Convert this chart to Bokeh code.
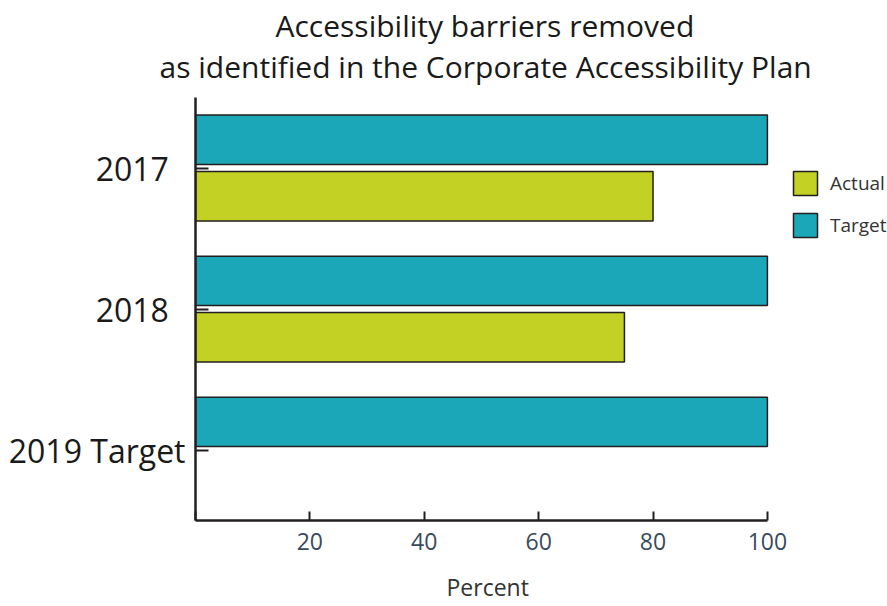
from bokeh.plotting import figure
from bokeh.models import (FactorRange, Range1d, FixedTicker, ColumnDataSource, Legend,
                          LegendItem, Title, CustomJSTickFormatter)
from bokeh.transform import dodge
from bokeh.embed import file_html
from bokeh.resources import INLINE

# data
categories = ["2017", "2018", "2019 Target"]
target = [100, 100, 100]
actual_cats = ["2017", "2018"]
actual = [80, 75]
x_ticks = [0, 20, 40, 60, 80, 100]
title_lines = ["Accessibility barriers removed", "as identified in the Corporate Accessibility Plan"]
x_label = "Percent"

TEAL = "#1ca7b8"
LIME = "#c2d123"
DARK = "#231f20"
FONT = "Open Sans"

p = figure(width=887, height=606,
           y_range=FactorRange(factors=list(reversed(categories)), range_padding=0),
           x_range=Range1d(0, 121.0),
           output_backend="svg", toolbar_location=None,
           min_border_left=195, min_border_right=0, min_border_top=97, min_border_bottom=86)

p.outline_line_color = None
p.xgrid.visible = False
p.ygrid.visible = False

src_t = ColumnDataSource(dict(y=categories, v=target))
src_a = ColumnDataSource(dict(y=actual_cats, v=actual))

rt = p.hbar(y=dodge("y", 0.2, range=p.y_range), left=0, right="v", height=0.35, source=src_t,
            fill_color=TEAL, line_color=DARK, line_width=1.5)
ra = p.hbar(y=dodge("y", -0.2, range=p.y_range), left=0, right="v", height=0.35, source=src_a,
            fill_color=LIME, line_color=DARK, line_width=1.5)

# x axis
xa = p.xaxis[0]
xa.bounds = (0, 100)
xa.ticker = FixedTicker(ticks=x_ticks)
xa.major_label_overrides = {0: ""}
xa.minor_tick_line_color = None
xa.major_tick_in = 9
xa.major_tick_out = 0
xa.major_tick_line_width = 2
xa.major_tick_line_color = DARK
xa.axis_line_width = 2.5
xa.axis_line_color = DARK
xa.major_label_text_font = FONT
xa.major_label_text_font_size = "23px"
xa.major_label_text_color = "#3a4a5e"
xa.major_label_standoff = 12
# trailing no-break spaces shift the centred label left, under the 0-100 span
xa.axis_label = x_label + "\u00a0" * 18
xa.axis_label_text_font = FONT
xa.axis_label_text_font_size = "23px"
xa.axis_label_text_font_style = "normal"
xa.axis_label_text_color = "#333333"
xa.axis_label_standoff = 18

# y axis
ya = p.yaxis[0]
ya.major_tick_in = 13
ya.major_tick_out = 0
ya.major_tick_line_width = 2
ya.major_tick_line_color = DARK
ya.axis_line_width = 2.5
ya.axis_line_color = DARK
ya.major_label_text_font = FONT
ya.major_label_text_font_size = "32px"
ya.major_label_text_color = "#1a1a1a"
ya.major_label_standoff = 10
ya.formatter = CustomJSTickFormatter(
    code="return (tick.length == 4) ? tick + '\\u00a0\\u00a0' : tick;")

# titles (default title is the outer one, added title sits next to the frame)
p.title.text = title_lines[0]
p.title.align = "left"
p.title.offset = 80
p.title.text_font = FONT
p.title.text_font_size = "30px"
p.title.text_font_style = "normal"
p.title.text_color = "#1a1a1a"
p.title.standoff = -24
t2 = Title(text=title_lines[1], align="left", offset=-36, text_font=FONT,
           text_font_size="30px", text_font_style="normal", text_color="#1a1a1a", standoff=21)
p.add_layout(t2, "above")

legend = Legend(items=[LegendItem(label="Actual", renderers=[ra]),
                       LegendItem(label="Target", renderers=[rt])],
                location=(595, 280), padding=0, margin=0, spacing=12,
                glyph_width=30, glyph_height=30, label_standoff=10,
                border_line_alpha=0, background_fill_alpha=0,
                label_text_font=FONT, label_text_font_size="19px", label_text_color="#333333")
p.add_layout(legend, "center")

open("out.html", "w").write(file_html(p, INLINE))
